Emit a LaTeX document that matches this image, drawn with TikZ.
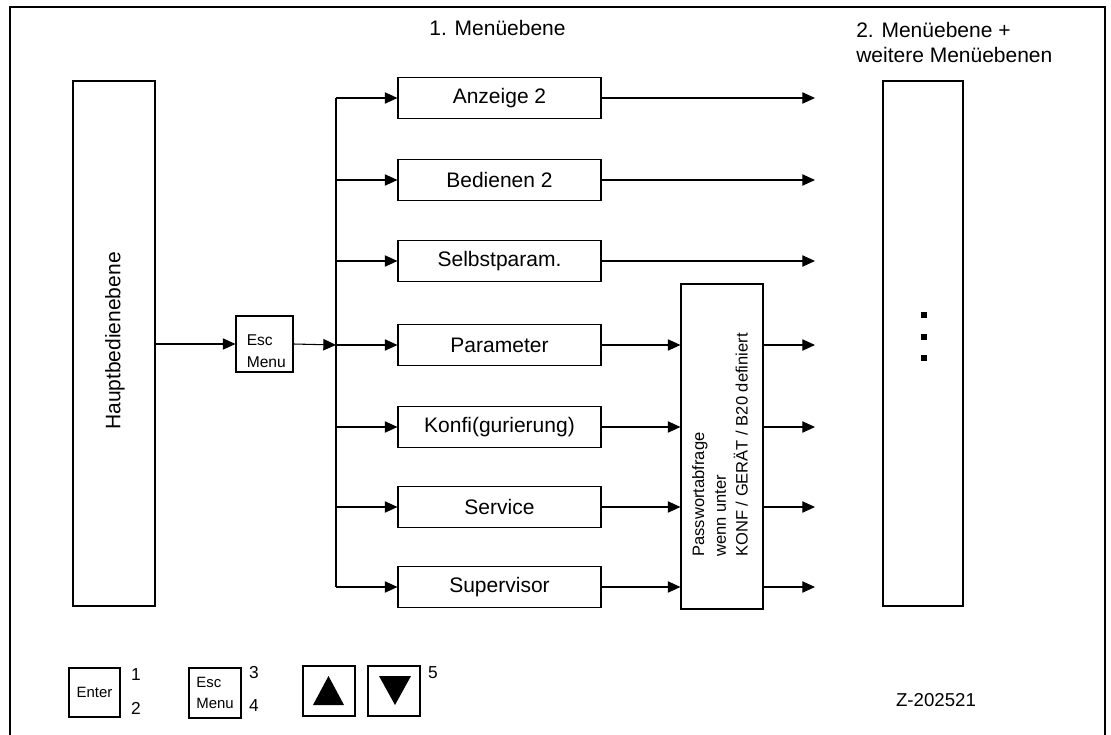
\documentclass[tikz,border=0pt]{standalone}
\usepackage{fontspec}
\setmainfont{Liberation Sans}
\usetikzlibrary{arrows.meta}
\begin{document}
\begin{tikzpicture}[x=0.75pt,y=-0.75pt,
  box/.style={draw, line width=0.8pt, inner sep=0pt, align=center},
  mbox/.style={box, minimum width=203*0.75pt, minimum height=41*0.75pt, font=\fontsize{15.75}{18}\selectfont},
  conn/.style={line width=0.8pt},
  arr/.style={conn, -{Triangle[length=9.5pt,width=8.5pt]}},
  lbl/.style={font=\fontsize{15.75}{18.75}\selectfont, inner sep=0pt},
  small/.style={font=\fontsize{13}{15}\selectfont, inner sep=0pt}
]
\useasboundingbox (0,0) rectangle (1111,735);
% frame
\draw[line width=1.5pt] (10,736) -- (10,7) -- (1105,7) -- (1105,736);

% headings
\node[lbl, anchor=base] (h1) at (497.5,36) {1. Menüebene};
\node[lbl, anchor=base west, align=left] (h2) at (856,63) {2. Menüebene +\\weitere Menüebenen};

% main boxes
\node[box, minimum width=82*0.75pt, minimum height=525*0.75pt] (hb) at (114,343.5) {};
\node[lbl, rotate=90] (hbt) at (115,341) {Hauptbedienebene};
\node[box, minimum width=57*0.75pt, minimum height=56*0.75pt] (esc) at (264.5,344) {};
\node[anchor=base west, align=left, inner sep=0pt, font=\fontsize{11.7}{16.5}\selectfont] (esct) at (246.5,367) {Esc\\Menu};

\node[mbox] (m1) at (499.5,98) {Anzeige 2};
\node[mbox] (m2) at (499.5,180) {Bedienen 2};
\node[mbox] (m3) at (499.5,261) {Selbstparam.};
\node[mbox] (m4) at (499.5,345) {Parameter};
\node[mbox] (m5) at (499.5,427) {Konfi(gurierung)};
\node[mbox] (m6) at (499.5,507) {Service};
\node[mbox] (m7) at (499.5,587) {Supervisor};

\node[box, minimum width=82*0.75pt, minimum height=325*0.75pt] (pw) at (722,446.5) {};
\node[rotate=90, align=left, inner sep=0pt, font=\fontsize{12.4}{16.3}\selectfont] (pwt) at (720,445) {Passwortabfrage\\wenn unter\\KONF / GERÄT / B20 definiert};

\node[box, minimum width=80*0.75pt, minimum height=525*0.75pt] (rb) at (923,343.5) {};
\foreach \yy in {315,337,358}
  \fill (921,\yy-3) rectangle (927,\yy+3);

% trunk
\coordinate (tj) at (336,345);
\coordinate (tt) at (336,98);
\coordinate (tb) at (336,587);
\coordinate (ox) at (815,0);
\draw[conn] (tt) -- (tb);
\draw[arr] (hb.east |- esc.west) -- (esc.west);
\draw[arr] (esc.east) -- (tj);
\foreach \m in {m1,m2,m3,m4,m5,m6,m7}
  \draw[arr] (tt |- \m.west) -- (\m.west);

% right outputs
\foreach \m in {m1,m2,m3}
  \draw[arr] (\m.east) -- (ox |- \m.east);
\foreach \m in {m4,m5,m6,m7} {
  \draw[arr] (\m.east) -- (pw.west |- \m.east);
  \draw[arr] (pw.east |- \m.east) -- (ox |- \m.east);
}

% legend
\node[box, minimum width=51*0.75pt, minimum height=49*0.75pt, font=\fontsize{11.2}{13}\selectfont] (kenter) at (94.5,692.5) {Enter};
\node[small] (n1) at (136,675) {1};
\node[small] (n2) at (136,708) {2};
\node[box, minimum width=52*0.75pt, minimum height=50*0.75pt, font=\fontsize{11.2}{15.5}\selectfont, align=left] (kesc) at (215,693) {Esc\\Menu};
\node[small] (n3) at (254,673) {3};
\node[small] (n4) at (254,706) {4};
\node[box, minimum width=52*0.75pt, minimum height=50*0.75pt] (kup) at (329,691) {};
\fill (313,705) -- (344,705) -- (328.5,676) -- cycle;
\node[box, minimum width=52*0.75pt, minimum height=50*0.75pt] (kdn) at (394,691) {};
\fill (379,676) -- (411,676) -- (395,705) -- cycle;
\node[small] (n5) at (433,673) {5};

\node[font=\fontsize{14}{16}\selectfont, inner sep=0pt] (z) at (936,700) {Z-202521};
\end{tikzpicture}
\end{document}
